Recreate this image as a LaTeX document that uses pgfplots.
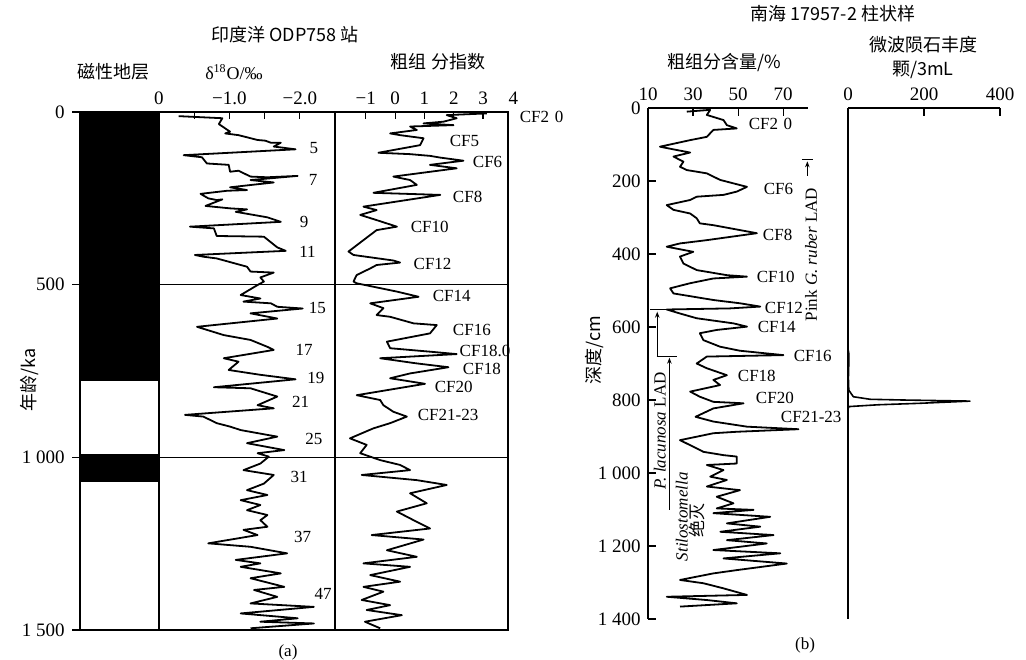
\documentclass[border=0pt]{standalone}
\usepackage{pgfplots}
\pgfplotsset{compat=1.18}
\usepackage{fontspec}
\setmainfont{Liberation Serif}
\newfontfamily\cjk{Noto Sans CJK SC}
\usetikzlibrary{arrows.meta}
\tikzset{
 lb/.style={font=\fontsize{8.5}{10}\selectfont},
 lw/.style={font=\fontsize{8.5}{10}\selectfont, anchor=west, inner sep=0pt},
}
\begin{document}
\begin{tikzpicture}
\useasboundingbox (0,0) rectangle (513pt,-329.5pt);
\pgfplotsset{
 every axis/.append style={scale only axis, anchor=north west, line width=0.7pt,
 tick style={line width=0.6pt,black}, major tick length=3.5pt,
 ticklabel style={font=\fontsize{9.5}{11}\selectfont}, clip=false,
 /pgf/number format/assume math mode=true},
 curve/.style={black, line width=0.9pt, line join=round},
}
% ---------------- Panel (a): magnetostratigraphy
\begin{axis}[at={(40pt,-56pt)}, width=39.5pt, height=259pt,
 xmin=0, xmax=1, ymin=0, ymax=1500, y dir=reverse,
 xtick=\empty, ytick={0,500,1000,1500}, yticklabels={0,500,1 000,1 500},
 ytick pos=left, tick align=outside, major tick length=4pt]
\addplot[fill=black, draw=none] coordinates {(0,0)(1,0)(1,780)(0,780)} --cycle;
\addplot[fill=black, draw=none] coordinates {(0,990)(1,990)(1,1070)(0,1070)} --cycle;
\end{axis}
% ---------------- delta 18O
\begin{axis}[at={(79.5pt,-56pt)}, width=88pt, height=259pt,
 xmin=-2.5, xmax=0, x dir=reverse, ymin=0, ymax=1500, y dir=reverse,
 xtick={0,-0.5,-1,-1.5,-2}, xticklabels={0,,−1.0,,−2.0},
 xtick pos=right, xticklabel pos=right, ytick=\empty, tick align=inside]
\addplot[black, line width=0.6pt] coordinates {(0,500)(-2.5,500)};
\addplot[black, line width=0.6pt] coordinates {(0,1000)(-2.5,1000)};
\addplot[curve] coordinates {
(-0.28,12)(-0.90,18)(-0.85,35)(-1.01,57)(-0.94,62)(-1.13,67)(-1.40,81)(-1.51,83)(-1.59,89)(-1.73,89)(-1.63,100)(-1.94,108)
(-0.35,125)(-0.61,131)(-0.68,149)(-0.99,153)(-1.01,173)(-1.13,170)(-1.30,187)(-1.54,189)(-1.97,185)(-1.30,197)(-1.63,204)
(-1.01,218)(-1.25,226)(-0.97,228)(-0.59,237)(-0.70,250)(-0.82,255)(-0.90,253)(-0.66,272)(-1.01,279)(-1.25,282)(-1.09,289)
(-1.54,305)(-1.73,318)(-0.44,332)(-0.78,337)(-0.82,359)(-1.49,361)(-1.68,392)(-1.80,402)(-0.51,414)(-0.63,419)(-0.82,424)
(-1.25,448)(-1.30,462)(-1.63,465)(-1.44,479)(-1.49,491)(-1.40,501)(-1.16,530)(-1.44,540)(-1.20,549)(-1.59,554)(-1.68,564)
(-2.04,569)(-1.30,583)(-1.68,598)(-0.54,622)(-0.92,646)(-1.30,660)(-1.54,680)(-1.63,689)(-0.92,713)(-1.13,723)(-0.99,747)
(-1.44,761)(-1.94,774)(-0.78,797)(-1.30,800)(-1.68,824)(-1.40,849)(-1.63,858)(-0.37,877)(-0.63,882)(-0.82,901)(-1.01,911)
(-1.16,921)(-1.54,935)(-1.68,940)(-1.25,959)(-1.78,979)(-1.40,988)(-1.56,998)(-1.44,1018)(-1.20,1037)(-1.63,1051)
(-1.49,1076)(-1.25,1095)(-1.54,1109)(-1.16,1124)(-1.44,1138)(-1.25,1153)(-1.54,1167)(-1.44,1182)(-1.54,1201)(-1.20,1210)
(-1.40,1225)(-0.70,1249)(-1.30,1259)(-1.82,1278)(-1.09,1297)(-1.44,1307)(-1.16,1317)(-1.73,1336)(-1.30,1350)(-1.78,1375)
(-1.35,1384)(-1.68,1404)(-1.30,1423)(-2.20,1433)(-1.16,1452)(-1.97,1466)(-1.44,1476)(-2.20,1481)(-1.30,1495)};
\node[lb] at (axis cs:-2.20,105) {5};
\node[lb] at (axis cs:-2.19,197) {7};
\node[lb] at (axis cs:-2.06,318) {9};
\node[lb] at (axis cs:-2.11,405) {11};
\node[lb] at (axis cs:-2.25,568) {15};
\node[lb] at (axis cs:-2.06,689) {17};
\node[lb] at (axis cs:-2.23,771) {19};
\node[lb] at (axis cs:-2.01,840) {21};
\node[lb] at (axis cs:-2.20,947) {25};
\node[lb] at (axis cs:-1.99,1057) {31};
\node[lb] at (axis cs:-2.04,1231) {37};
\node[lb] at (axis cs:-2.33,1396) {47};
\end{axis}
% ---------------- coarse fraction index
\begin{axis}[at={(167.5pt,-56pt)}, width=86.5pt, height=259pt,
 xmin=-2.05, xmax=3.85, ymin=0, ymax=1500, y dir=reverse,
 xtick={-1,0,1,2,3}, xticklabels={−1,0,1,2,3},
 xtick pos=right, xticklabel pos=right, ytick=\empty, tick align=inside]
\addplot[black, line width=0.6pt] coordinates {(-2.05,500)(3.85,500)};
\addplot[black, line width=0.6pt] coordinates {(-2.05,1000)(3.85,1000)};
\addplot[curve] coordinates {
(3.13,4)(1.76,9)(2.10,18)(1.65,28)(0.97,33)(1.99,38)(0.51,42)(0.74,52)(-0.17,62)(0.17,67)(0.97,76)(0.85,96)
(-0.57,118)(0.51,122)(1.19,127)(1.54,132)(2.33,141)(1.19,153)(2.10,163)(-0.06,187)(0.51,197)(0.74,211)(-0.74,234)
(1.54,240)(-1.08,274)(-0.63,284)(-1.19,298)(-0.63,313)(0.06,332)(-0.63,342)(-1.08,371)(-1.59,404)(-1.42,414)
(-0.06,430)(0.17,436)(-0.63,443)(-0.85,453)(-1.31,472)(-1.42,491)(-1.31,496)(-0.74,506)(0.06,520)(0.80,535)
(-0.85,554)(-0.40,568)(-0.63,588)(-0.17,593)(0.63,612)(1.42,617)(1.19,641)(-0.28,665)(-0.17,684)(1.19,694)(2.10,701)
(-0.51,713)(0.74,728)(1.82,739)(0.51,757)(-0.17,771)(1.02,787)(-1.31,820)(-0.51,834)(-0.40,849)(-0.06,868)(0.40,882)
(-0.17,901)(-0.74,916)(-1.54,945)(-0.97,964)(-1.19,988)(-0.51,1008)(0.17,1022)(0.51,1037)(-1.14,1051)(0.74,1066)
(1.76,1080)(0.51,1104)(1.08,1133)(0.06,1157)(0.63,1182)(1.19,1206)(-0.80,1225)(0.97,1238)(-0.28,1269)(0.74,1288)
(-1.08,1307)(0.51,1317)(-0.85,1341)(0.17,1360)(-1.08,1375)(-0.40,1389)(-1.14,1413)(-0.17,1428)(-0.97,1442)(0.23,1457)
(-1.03,1476)(-0.51,1495)};
\node[lw] at (axis cs:1.84,84) {CF5};
\node[lw] at (axis cs:2.63,145) {CF6};
\node[lw] at (axis cs:1.95,246) {CF8};
\node[lw] at (axis cs:0.51,333) {CF10};
\node[lw] at (axis cs:0.61,440) {CF12};
\node[lw] at (axis cs:1.26,533) {CF14};
\node[lw] at (axis cs:1.95,631) {CF16};
\node[lw] at (axis cs:2.18,692) {CF18.0};
\node[lw] at (axis cs:2.29,744) {CF18};
\node[lw] at (axis cs:1.33,796) {CF20};
\node[lw] at (axis cs:0.75,877) {CF21-23};
\node[lw] at (axis cs:4.23,14) {CF2\,\,0};
\node[font=\fontsize{9.5}{11}\selectfont, anchor=south] at ([yshift=0.3pt]axis cs:4.03,0) {4};
\end{axis}
% ---------------- Panel (b): coarse fraction content
\begin{axis}[at={(324pt,-54pt)}, width=80pt, height=255.5pt,
 xmin=10, xmax=81, ymin=0, ymax=1400, y dir=reverse,
 axis x line*=top, axis y line*=left,
 xtick={10,30,50,70}, ytick={0,200,...,1400},
 yticklabels={0,200,400,600,800,1 000,1 200,1 400}, tick align=inside, major tick length=4pt]
\addplot[curve] coordinates {
(27.2,10)(37.6,5)(36.1,19)(43.5,33)(45.0,47)(49.4,56)(39.0,60)(36.1,79)(28.7,88)(15.3,106)(22.7,115)(28.7,122)
(21.3,133)(25.7,147)(24.2,161)(27.2,170)(36.1,179)(42.0,197)(53.9,216)(49.4,229)(43.5,238)(31.6,243)(28.7,252)
(18.3,266)(21.3,279)(28.7,289)(31.6,302)(33.0,316)(39.0,321)(58.3,343)(36.1,362)(24.2,371)(18.3,380)(30.1,394)
(24.2,407)(25.7,426)(31.6,444)(45.0,458)(53.9,462)(39.0,467)(28.7,480)(19.8,494)(21.3,508)(39.0,526)(50.8,535)
(59.8,544)(46.4,549)(18.3,552)(24.2,563)(31.6,576)(47.9,590)(53.9,599)(40.5,608)(33.0,617)(34.6,636)(42.0,654)
(50.8,665)(70.1,677)(36.1,681)(31.6,700)(36.1,713)(45.0,732)(39.0,745)(42.0,759)(28.7,777)(33.0,791)(39.0,805)
(52.4,809)(39.0,823)(31.1,846)(39.0,859)(53.9,873)(76.8,880)(49.4,887)(39.0,891)(24.2,910)(30.1,928)(34.6,942)
(43.5,951)(49.4,955)(49.4,974)(36.1,978)(43.5,992)(37.6,1010)(45.0,1019)(36.1,1037)(50.8,1047)(40.5,1065)
(47.9,1083)(40.5,1097)(56.8,1101)(39.0,1110)(64.2,1120)(45.0,1138)(59.8,1147)(42.1,1161)(65.7,1170)(45.0,1184)
(62.7,1193)(39.0,1211)(68.7,1220)(43.5,1234)(71.6,1248)(49.4,1266)(39.0,1275)(24.2,1293)(34.6,1302)(43.5,1316)
(53.9,1334)(18.3,1339)(36.1,1348)(49.4,1357)(24.2,1366)};
\node[lw] at (axis cs:61.1,222) {CF6};
\node[lw] at (axis cs:60.7,348) {CF8};
\node[lw] at (axis cs:58.0,463) {CF10};
\node[lw] at (axis cs:61.6,548) {CF12};
\node[lw] at (axis cs:58.4,600) {CF14};
\node[lw] at (axis cs:74.4,679) {CF16};
\node[lw] at (axis cs:49.6,734) {CF18};
\node[lw] at (axis cs:57.6,795) {CF20};
\node[lw] at (axis cs:68.7,846) {CF21-23};
\node[lw] at (axis cs:54.4,44) {CF2\,\,0};
% annotations
\draw[line width=0.5pt] (axis cs:78.3,142) -- (axis cs:83.1,142);
\draw[line width=0.5pt, -{Stealth[length=3pt]}] (axis cs:80.7,185) -- (axis cs:80.7,146);
\node[lw, rotate=90] at (axis cs:82.4,586) {Pink \textit{G. ruber} LAD};
\draw[line width=0.5pt] (axis cs:10.9,553) -- (axis cs:20.7,553);
\draw[line width=0.5pt, -{Stealth[length=3pt]}] (axis cs:14.1,680) -- (axis cs:14.1,558);
\draw[line width=0.5pt] (axis cs:13.8,680) -- (axis cs:22.9,680);
\draw[line width=0.5pt, -{Stealth[length=3pt]}] (axis cs:19.5,1100) -- (axis cs:19.5,684);
\node[lb, rotate=90] at (axis cs:15.3,885) {\textit{P. lacunosa} LAD};
\node[lb, rotate=90] at (axis cs:25.0,1120) {\textit{Stilostomella}};
\node[lb, rotate=90] at (axis cs:31.6,1129) {\cjk 绝灭};
\end{axis}
% ---------------- microtektite abundance
\begin{axis}[at={(424pt,-54pt)}, width=76pt, height=255.5pt,
 xmin=0, xmax=400, ymin=0, ymax=1400, y dir=reverse,
 axis x line*=top, axis y line*=left,
 xtick={0,200,400}, ytick=\empty, tick align=inside, major tick length=4pt]
\addplot[black, line width=0.8pt, line join=round] coordinates {
(0,660)(2,672)(2,700)(1,740)(2,773)(14,791)(58,798)(146,800)(321,803)(189,809)(80,813)(2,818)(0,825)};
\end{axis}
% ---------------- titles and labels
\node[font=\cjk\fontsize{9}{11}\selectfont] at (142.5pt,-17.5pt) {印度洋 ODP758 站};
\node[font=\cjk\fontsize{9}{11}\selectfont] at (56.5pt,-36pt) {磁性地层};
\node[font=\fontsize{9}{11}\selectfont] at (117pt,-36pt) {δ\textsuperscript{18}O/‰};
\node[font=\cjk\fontsize{9}{11}\selectfont] at (219pt,-31pt) {粗组 分指数};
\node[font=\cjk\fontsize{9}{11}\selectfont, rotate=90] at (15pt,-190pt) {年龄/ka};
\node[font=\fontsize{8.5}{10}\selectfont] at (144pt,-326pt) {(a)};
\node[font=\cjk\fontsize{9}{11}\selectfont] at (416.5pt,-7pt) {南海 17957-2 柱状样};
\node[font=\cjk\fontsize{9}{11}\selectfont] at (461.5pt,-22.5pt) {微波陨石丰度};
\node[font=\cjk\fontsize{9}{11}\selectfont] at (461.5pt,-35pt) {颗/3mL};
\node[font=\cjk\fontsize{9}{11}\selectfont] at (362pt,-31.5pt) {粗组分含量/\%};
\node[font=\cjk\fontsize{9}{11}\selectfont, rotate=90] at (297pt,-175pt) {深度/cm};
\node[font=\fontsize{8.5}{10}\selectfont] at (402.5pt,-322.5pt) {(b)};
\end{tikzpicture}
\end{document}
